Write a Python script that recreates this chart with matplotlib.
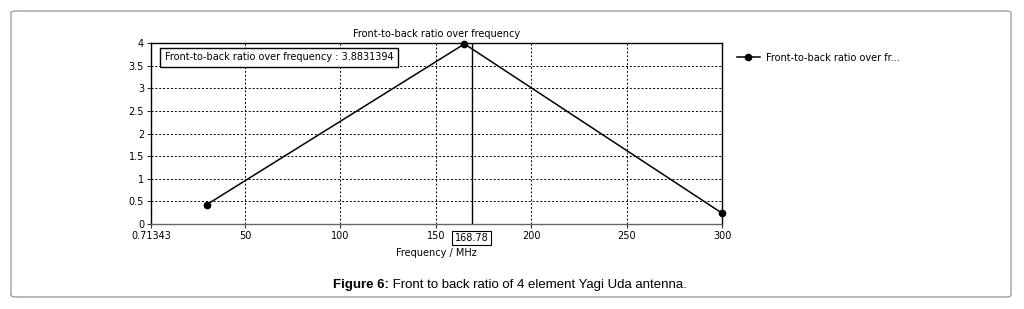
import matplotlib
matplotlib.use("Agg")
import matplotlib.pyplot as plt
from matplotlib.patches import FancyBboxPatch
import matplotlib.transforms as mtransforms

# ---- data ----
freq_mhz = [30, 165, 300]
ftb_ratio = [0.43, 3.98, 0.24]
x_min, x_max = 0.71343, 300
x_ticks = [0.71343, 50, 100, 150, 200, 250, 300]
x_tick_labels = ["0.71343", "50", "100", "150", "200", "250", "300"]
y_ticks = [0, 0.5, 1, 1.5, 2, 2.5, 3, 3.5, 4]
y_tick_labels = ["0", "0.5", "1", "1.5", "2", "2.5", "3", "3.5", "4"]
cursor_freq = 168.78
cursor_value = 3.8831394
series_name = "Front-to-back ratio over frequency"
legend_label = "Front-to-back ratio over fr..."
caption_bold = "Figure 6:"
caption_rest = " Front to back ratio of 4 element Yagi Uda antenna."

W, H = 1024, 309
fig = plt.figure(figsize=(W / 100, H / 100), dpi=100)
fig.patch.set_facecolor("white")

def fx(px):
    return px / W

def fy(py):
    return 1 - py / H

# outer rounded frame
frame = FancyBboxPatch((fx(11), fy(297)), fx(1011) - fx(11), fy(11) - fy(297),
                       boxstyle="round,pad=0,rounding_size=0.006",
                       transform=fig.transFigure, facecolor="none",
                       edgecolor="#a0a0a0", linewidth=1.0, zorder=-5)
fig.patches.append(frame)

left, right, top, bottom = 151, 722, 43, 224
ax = fig.add_axes([fx(left), fy(bottom), fx(right) - fx(left), fy(top) - fy(bottom)])
fs = 7.0
ax.plot(freq_mhz, ftb_ratio, color="black", linewidth=1.1, marker="o",
        markersize=4.5, zorder=3, clip_on=False)
ax.set_xlim(x_min, x_max)
ax.set_ylim(0, 4)
ax.set_xticks(x_ticks)
ax.set_xticklabels(x_tick_labels, fontsize=fs)
ax.set_yticks(y_ticks)
ax.set_yticklabels(y_tick_labels, fontsize=fs)
ax.tick_params(axis="both", length=3, width=0.8, pad=2, colors="#333333",
               labelcolor="black")
ax.grid(True, color="black", linestyle=(0, (2, 2)), linewidth=0.7)
for s in ["left", "right", "top"]:
    ax.spines[s].set_color("black")
    ax.spines[s].set_linewidth(1.0)
ax.spines["bottom"].set_color("#666666")
ax.spines["bottom"].set_linewidth(1.0)

ax.set_title(series_name, fontsize=fs, pad=4)
ax.set_xlabel("Frequency / MHz", fontsize=fs, labelpad=5)

# cursor
ax.axvline(cursor_freq, color="black", linewidth=1.0, zorder=2)
trans = mtransforms.blended_transform_factory(ax.transData, ax.transAxes)
ax.text(cursor_freq, -0.05, f"{cursor_freq:.2f}", transform=trans,
        ha="center", va="top", fontsize=fs,
        bbox=dict(boxstyle="square,pad=0.25", facecolor="white",
                  edgecolor="black", linewidth=0.8))
ax.text(0.024, 0.92, f"{series_name} : {cursor_value:.7f}",
        transform=ax.transAxes, ha="left", va="center", fontsize=fs,
        bbox=dict(boxstyle="square,pad=0.45", facecolor="white",
                  edgecolor="black", linewidth=1.0), zorder=5)

# legend
leg = ax.legend([ax.lines[0]], [legend_label], loc="upper left",
                bbox_to_anchor=(fx(728), fy(44)), bbox_transform=fig.transFigure,
                frameon=False, fontsize=fs, handlelength=2.4, handletextpad=0.6)

# caption
cap_y = fy(285)
t1 = fig.text(fx(333), cap_y, caption_bold, fontsize=9.5, fontweight="bold",
              family="Liberation Sans", ha="left", va="center")
fig.canvas.draw()
bb = t1.get_window_extent()
fig.text(bb.x1 / W, cap_y, caption_rest, fontsize=9.5,
         family="Liberation Sans", ha="left", va="center")

fig.savefig("out.png", dpi=100)
